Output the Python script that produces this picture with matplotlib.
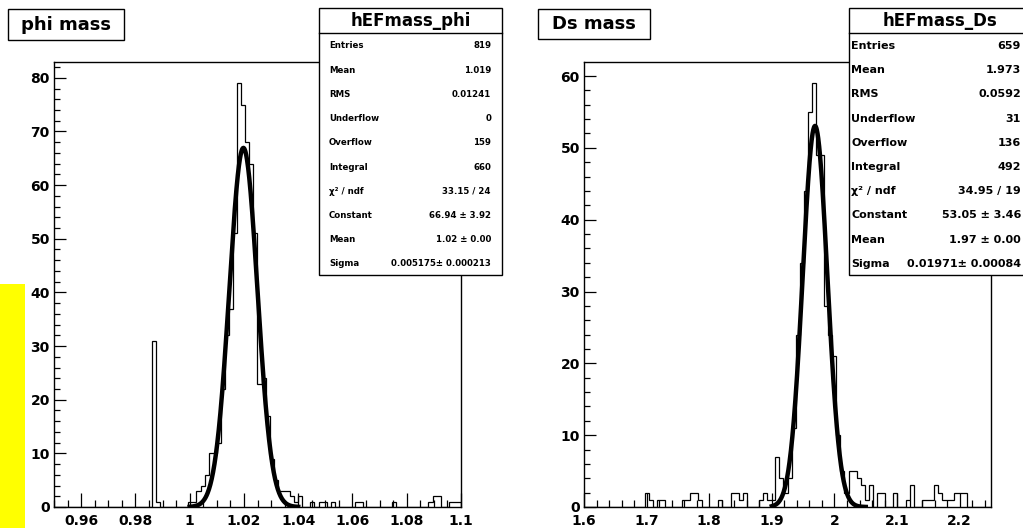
import numpy as np
import matplotlib
matplotlib.use("Agg")
import matplotlib.pyplot as plt
from matplotlib.ticker import MultipleLocator, FuncFormatter
from matplotlib.patches import Rectangle

# ---- data ----
phi_range = (0.95, 1.1)
phi_counts = [
    0, 0, 0, 0, 0, 0, 0, 0, 0, 0, 0, 0, 0, 0, 0, 0, 0, 0, 0, 0,
    0, 0, 0, 0, 31, 1, 0, 0, 0, 0, 0, 0, 0, 1, 1, 3, 4, 6, 10, 10,
    12, 22, 32, 37, 51, 79, 75, 68, 64, 51, 23, 24, 17, 9, 5, 3, 3, 3, 2, 1,
    2, 0, 0, 1, 0, 1, 1, 0, 1, 0, 0, 0, 0, 0, 1, 1, 0, 0, 0, 0,
    0, 0, 0, 1, 0, 0, 0, 0, 0, 0, 0, 0, 1, 2, 2, 0, 0, 1, 1, 1,
]
phi_fit = dict(const=66.94, mean=1.0198, sigma=0.005175, lo=1.0, hi=1.04)
phi_stats = [("Entries", "819"), ("Mean", "1.019"), ("RMS", "0.01241"),
             ("Underflow", "0"), ("Overflow", "159"), ("Integral", "660"),
             ("χ² / ndf", "33.15 / 24"), ("Constant", "66.94 ± 3.92"),
             ("Mean", "1.02 ± 0.00"), ("Sigma", "0.005175± 0.000213")]

ds_range = (1.6, 2.25)
ds_counts = [
    0, 0, 0, 0, 0, 0, 0, 0, 0, 0, 0, 0, 0, 0, 0, 2, 1, 0, 1, 1,
    0, 0, 0, 0, 1, 1, 2, 2, 1, 0, 0, 0, 0, 1, 0, 0, 2, 2, 1, 2,
    0, 0, 0, 1, 2, 1, 1, 7, 4, 2, 4, 11, 24, 34, 44, 55, 59, 49, 49, 28,
    24, 21, 10, 5, 2, 5, 5, 4, 3, 1, 3, 0, 2, 2, 0, 0, 2, 0, 0, 1,
    3, 0, 0, 1, 1, 1, 3, 2, 1, 1, 1, 2, 2, 2, 0, 0, 0, 0, 0, 0,
]
ds_fit = dict(const=53.05, mean=1.969, sigma=0.01971, lo=1.9, hi=2.05)
ds_stats = [("Entries", "659"), ("Mean", "1.973"), ("RMS", "0.0592"),
            ("Underflow", "31"), ("Overflow", "136"), ("Integral", "492"),
            ("χ² / ndf", "34.95 / 19"), ("Constant", "53.05 ± 3.46"),
            ("Mean", "1.97 ± 0.00"), ("Sigma", "0.01971± 0.00084")]

W, H = 1023, 528
plt.rcParams['font.family'] = ['DejaVu Sans']
plt.rcParams['font.weight'] = 'bold'

fig = plt.figure(figsize=(W / 100, H / 100), dpi=100)


def fx(px):
    return px / W


def fy(py):
    return 1 - py / H


def fmt(v, pos):
    s = f"{v:.2f}".rstrip('0').rstrip('.')
    return s


def panel(left_px, counts, xr, fit, xmaj, xmin):
    ax = fig.add_axes([fx(left_px), fy(507), 407 / W, 445 / H])
    edges = np.linspace(xr[0], xr[1], len(counts) + 1)
    ax.stairs(counts, edges, baseline=0, color='black', lw=0.9)
    xs = np.linspace(fit['lo'], fit['hi'], 400)
    ys = fit['const'] * np.exp(-0.5 * ((xs - fit['mean']) / fit['sigma']) ** 2)
    ax.plot(xs, ys, color='black', lw=3.2)
    ax.set_xlim(*xr)
    ax.set_ylim(0, max(counts) * 1.05)
    ax.xaxis.set_major_locator(MultipleLocator(xmaj))
    ax.xaxis.set_minor_locator(MultipleLocator(xmin))
    ax.xaxis.set_major_formatter(FuncFormatter(fmt))
    ax.yaxis.set_major_locator(MultipleLocator(10))
    ax.yaxis.set_minor_locator(MultipleLocator(2))
    ax.tick_params(which='both', direction='in', width=0.9, labelsize=10, pad=3)
    ax.tick_params(axis='x', which='major', length=9.8, pad=4.8)
    ax.tick_params(axis='x', which='minor', length=4.9)
    ax.tick_params(axis='y', which='major', length=8.8)
    ax.tick_params(axis='y', which='minor', length=4.4)
    for sp in ax.spines.values():
        sp.set_linewidth(1.0)
    for lab in ax.get_xticklabels() + ax.get_yticklabels():
        lab.set_fontweight('bold')
    return ax


panel(54, phi_counts, phi_range, phi_fit, 0.02, 0.005)
panel(584, ds_counts, ds_range, ds_fit, 0.1, 0.02)


def title_box(x0, x1, y0, y1, text):
    fig.patches.append(Rectangle((fx(x0), fy(y1)), fx(x1) - fx(x0), fy(y0) - fy(y1),
                                 transform=fig.transFigure, facecolor='white',
                                 edgecolor='black', lw=1.0, zorder=5))
    fig.text(fx((x0 + x1) / 2), fy((y0 + y1) / 2), text, ha='center', va='center',
             fontsize=13, fontweight='bold', zorder=6)


def stats_box(x0, x1, name, rows, size, lab_x, val_x):
    y0, y1 = 8, 275
    fig.patches.append(Rectangle((fx(x0), fy(y1)), fx(x1) - fx(x0), fy(y0) - fy(y1),
                                 transform=fig.transFigure, facecolor='white',
                                 edgecolor='black', lw=1.0, zorder=5))
    fig.lines.append(plt.Line2D([fx(x0), fx(x1)], [fy(33), fy(33)],
                                transform=fig.transFigure, color='black', lw=1.0, zorder=6))
    fig.text(fx((x0 + x1) / 2), fy(20.5), name, ha='center', va='center',
             fontsize=12, fontweight='bold', zorder=6)
    for i, (lab, val) in enumerate(rows):
        y = fy(46 + i * 24.2)
        fig.text(fx(lab_x), y, lab, ha='left', va='center', fontsize=size,
                 fontweight='bold', zorder=6)
        fig.text(fx(val_x), y, val, ha='right', va='center', fontsize=size,
                 fontweight='bold', zorder=6)


title_box(8, 124, 9, 40, "phi mass")
title_box(538, 650, 9, 39, "Ds mass")
stats_box(319, 502, "hEFmass_phi", phi_stats, 6.2, 329, 491)
stats_box(849, 1032, "hEFmass_Ds", ds_stats, 8.0, 851, 1021)

# yellow marker strip on the left edge
fig.patches.append(Rectangle((0, 0), fx(25), fy(284), transform=fig.transFigure,
                             facecolor='#ffff00', edgecolor='none', zorder=4))
fig.lines.append(plt.Line2D([0, fx(25)], [fy(445), fy(445)], transform=fig.transFigure,
                            color='white', lw=0.6, zorder=4))

fig.savefig("out.png", dpi=100)
